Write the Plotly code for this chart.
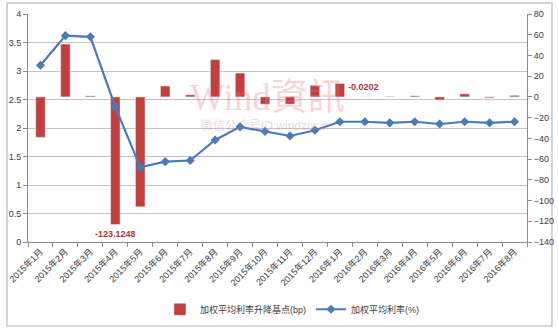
import plotly.graph_objects as go

months = ["2015年1月", "2015年2月", "2015年3月", "2015年4月", "2015年5月", "2015年6月",
          "2015年7月", "2015年8月", "2015年9月", "2015年10月", "2015年11月", "2015年12月",
          "2016年1月", "2016年2月", "2016年3月", "2016年4月", "2016年5月", "2016年6月",
          "2016年7月", "2016年8月"]
bp_change = [-39, 51, 1, -123.1248, -106, 10.5, 2, 36, 23, -7, -7, 11,
             13, -0.0202, 0.4, 1, -3, 3, -1, 1.5]
avg_rate = [3.10, 3.62, 3.60, 2.37, 1.31, 1.41, 1.43, 1.79, 2.02, 1.94, 1.86, 1.96,
            2.11, 2.11, 2.09, 2.11, 2.07, 2.11, 2.09, 2.11]
bar_name = "加权平均利率升降基点(bp)"
line_name = "加权平均利率(%)"
labelled = {3: "-123.1248", 13: "-0.0202"}

FONT = "Liberation Sans, Noto Sans CJK SC, sans-serif"
RED = "#c0403f"
BLUE = "#4a7ab8"

fig = go.Figure()
fig.add_trace(go.Bar(x=months, y=bp_change, name=bar_name, marker_color=RED,
                     width=0.38, yaxis="y"))
fig.add_trace(go.Scatter(x=months, y=avg_rate, name=line_name, yaxis="y2",
                         mode="lines+markers",
                         line=dict(color=BLUE, width=2.2),
                         marker=dict(symbol="diamond", size=7, color=BLUE)))

for i, txt in labelled.items():
    v = bp_change[i]
    fig.add_annotation(x=months[i], y=v, xref="x", yref="y", text="<b>" + txt + "</b>",
                       showarrow=False, font=dict(size=9, color="#b03434", family=FONT),
                       yshift=-9 if v < -1 else 10, xshift=0 if v < -1 else -1)

# watermark
fig.add_annotation(x=0.48, y=0.635, xref="paper", yref="paper", text="Wind資訊",
                   showarrow=False, font=dict(size=37, color="rgba(232,120,130,0.33)",
                                              family="Liberation Serif, Noto Sans CJK TC"))
fig.add_annotation(x=0.475, y=0.51, xref="paper", yref="paper", text="微信公众号ID:windzixun",
                   showarrow=False, font=dict(size=12, color="rgba(200,140,145,0.35)",
                                              family=FONT))

# outer frame
fig.add_shape(type="rect", xref="paper", yref="paper", x0=-0.042, x1=1.050,
              y0=-0.368, y1=1.048, line=dict(color="#c8c8c8", width=1.5), layer="below")

axis_common = dict(showline=True, linecolor="#8c8c8c", linewidth=1, ticks="outside",
                   ticklen=4, tickcolor="#8c8c8c", automargin=False,
                   tickfont=dict(size=9, color="#404040", family=FONT))

fig.update_layout(
    width=558, height=332,
    margin=dict(l=28, r=31, t=14, b=90, autoexpand=False),
    paper_bgcolor="white", plot_bgcolor="white",
    showlegend=True,
    legend=dict(orientation="h", x=0.53, y=-0.295, xanchor="center", yanchor="middle",
                font=dict(size=9, color="#404040", family=FONT), itemwidth=30,
                traceorder="normal"),
    xaxis=dict(type="category", tickangle=-45, tickson="boundaries", showgrid=False,
               range=[-0.5, len(months) - 0.5], **axis_common),
    yaxis=dict(side="right", range=[-140, 80], dtick=20, showgrid=False, zeroline=False,
               **axis_common),
    yaxis2=dict(side="left", overlaying="y", range=[0, 4], dtick=0.5, showgrid=True,
                gridcolor="#c4c4c4", gridwidth=1, zeroline=False, **axis_common),
    bargap=0.6,
)

fig.write_html("out.html")
